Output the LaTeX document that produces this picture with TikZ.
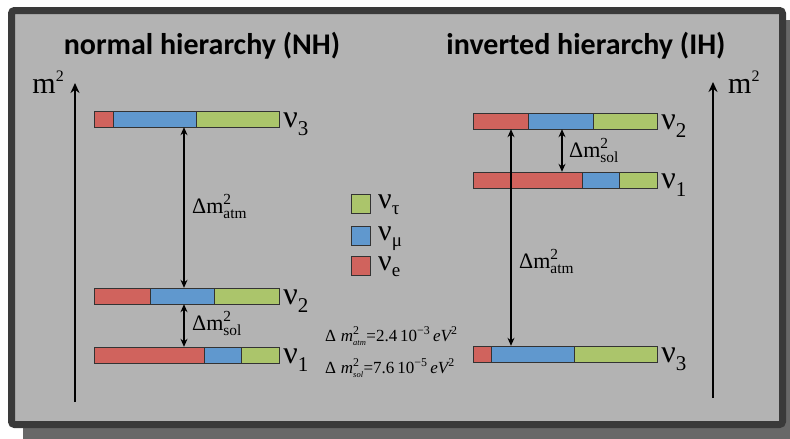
\documentclass[tikz,border=0pt]{standalone}
\usepackage{fontspec}
\usepackage{amsmath}
\setmainfont{Liberation Serif}
\newfontfamily\titlefont{Carlito}
\usetikzlibrary{positioning, fit, arrows.meta, calc}
\definecolor{NuE}{RGB}{208, 99, 93}
\definecolor{NuMu}{RGB}{96, 152, 206}
\definecolor{NuTau}{RGB}{171, 197, 107}
\definecolor{PanelBg}{RGB}{179, 179, 179}
\definecolor{PanelEdge}{RGB}{58, 58, 58}
\definecolor{PanelShadow}{RGB}{104, 104, 104}

\tikzset{
  segbox/.style={draw=black!80, line width=0.8pt},
  levelbox/.style={draw=none, inner sep=0pt},
  keybox/.style={draw=black!80, line width=0.8pt, minimum size=19, inner sep=0pt},
  massaxis/.style={line width=2.4pt, -{Stealth[length=10pt, width=9pt]}},
  gaparrow/.style={line width=1.1pt, {Stealth[length=8pt, width=7pt]}-{Stealth[length=8pt, width=7pt]}},
  titletext/.style={font=\titlefont\bfseries\fontsize{30}{34}\selectfont},
  masslabel/.style={font=\fontsize{30}{34}\selectfont, inner sep=0pt},
  nulabel/.style={font=\fontsize{32}{36}\selectfont, inner sep=0pt, anchor=base west},
  keylabel/.style={font=\fontsize{30}{32}\selectfont, inner sep=0pt, anchor=base west},
  dmlabel/.style={font=\fontsize{22}{26}\selectfont, inner sep=0pt, anchor=base west},
  eqtext/.style={font=\fontsize{17}{20}\selectfont, inner sep=0pt, anchor=base west}
}

\newcommand{\nuidx}[1]{\raisebox{-8pt}{\fontsize{21}{21}\selectfont #1}}
\newcommand{\keyidx}[1]{\raisebox{-6pt}{\fontsize{19}{19}\selectfont #1}}
\newcommand{\msq}{m\raisebox{12pt}{\fontsize{16}{16}\selectfont 2}}
\newcommand{\dmsq}[1]{$\text{Δm}^{\text{2}}_{\text{#1}}$}
\newcommand{\dmval}[3]{$\text{Δ}\;\textit{m}^{\text{2}}_{\scriptscriptstyle\textit{#1}}\text{=#2\,10}^{\text{−#3}}\,\textit{eV}^{\text{2}}$}

% one mass level: name, left, top, e|mu, mu|tau, right, index
\newcommand{\nulevel}[7]{%
  \draw[segbox, fill=NuE] (#2,#3) rectangle (#4,#3+16);
  \draw[segbox, fill=NuMu] (#4,#3) rectangle (#5,#3+16);
  \draw[segbox, fill=NuTau] (#5,#3) rectangle (#6,#3+16);
  \path (#2,#3) coordinate (#1nw) (#6,#3+16) coordinate (#1se);
  \node[levelbox, fit=(#1nw)(#1se)] (#1) {};
  \node[nulabel] (#1lab) at ($(#1.south east)+(4,0)$) {ν\nuidx{#7}};
}

\begin{document}
\begin{tikzpicture}[x=1pt,y=-1pt]
  \useasboundingbox (0,0) rectangle (790,439);
  % panel
  \fill[PanelShadow] (23,20) rectangle (790,439);
  \draw[PanelEdge, line width=7pt, fill=PanelBg, rounded corners=3pt] (11.5,10.5) rectangle (782.5,424.5);

  \node[titletext] (nhtitle) at (202,46) {normal hierarchy (NH)};
  \node[titletext] (ihtitle) at (586,46) {inverted hierarchy (IH)};

  % mass axes
  \coordinate (nhbase) at (75,402);
  \coordinate (nhtop) at (75,83);
  \coordinate (ihbase) at (713,398);
  \coordinate (ihtop) at (713,82);
  \draw[massaxis] (nhbase) -- (nhtop);
  \draw[massaxis] (ihbase) -- (ihtop);
  \node[masslabel, anchor=base east] (nhm) at (64,93) {\msq};
  \node[masslabel, anchor=base west] (ihm) at (728,93) {\msq};

  % normal hierarchy
  \nulevel{nh3}{94}{111}{113}{196}{279}{3}
  \nulevel{nh2}{94}{288}{150}{214}{279}{2}
  \nulevel{nh1}{94}{347}{204}{241}{279}{1}
  \coordinate (nhgap) at (184,0);
  \draw[gaparrow] (nh3.south -| nhgap) -- (nh2.north -| nhgap);
  \draw[gaparrow] (nh2.south -| nhgap) -- (nh1.north -| nhgap);
  \node[dmlabel] (nhatm) at (192,213) {\dmsq{atm}};
  \node[dmlabel] (nhsol) at (192,330) {\dmsq{sol}};

  % inverted hierarchy
  \nulevel{ih2}{473}{113}{528}{593}{657}{2}
  \nulevel{ih1}{473}{172}{582}{619}{657}{1}
  \nulevel{ih3}{473}{346}{491}{574}{657}{3}
  \coordinate (ihatmx) at (511,0);
  \coordinate (ihsolx) at (562,0);
  \draw[gaparrow] (ih2.south -| ihatmx) -- (ih3.north -| ihatmx);
  \draw[gaparrow] (ih2.south -| ihsolx) -- (ih1.north -| ihsolx);
  \node[dmlabel] (ihatm) at (519,268) {\dmsq{atm}};
  \node[dmlabel] (ihsol) at (569,157) {\dmsq{sol}};

  % flavour key
  \foreach \flav/\col/\yy [count=\k] in {τ/NuTau/194, μ/NuMu/226, e/NuE/256} {
    \node[keybox, fill=\col, anchor=north west] (key\k) at (351,\yy) {};
    \node[keylabel] (key\k lab) at (378,\yy+14) {ν\keyidx{\flav}};
  }

  % measured splittings
  \node[eqtext] (atmval) at (325,341) {\dmval{atm}{2.4}{3}};
  \node[eqtext] (solval) at (325,373) {\dmval{sol}{7.6}{5}};
\end{tikzpicture}
\end{document}
